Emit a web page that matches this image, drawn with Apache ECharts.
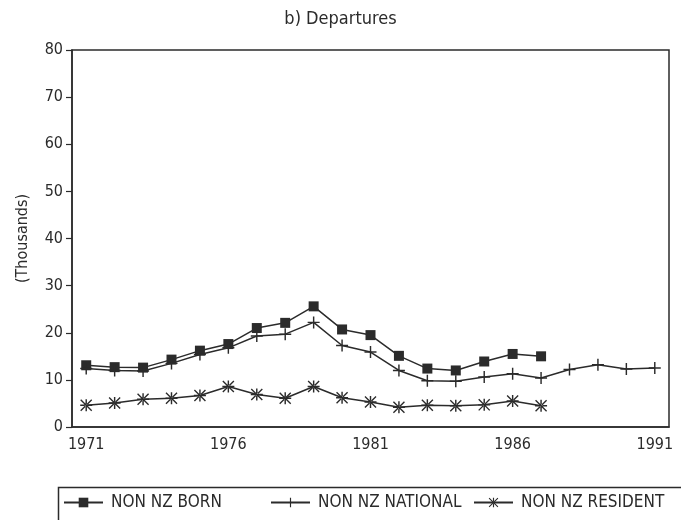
<!DOCTYPE html>
<html>
<head>
<meta charset="utf-8">
<script src="https://cdn.jsdelivr.net/npm/echarts@6/dist/echarts.min.js"></script>
<style>
  html, body { margin: 0; padding: 0; background: #fff; }
  #chart { width: 681px; height: 520px; }
</style>
</head>
<body>
<div id="chart"></div>
<script>
// years on the x axis
const years = ['1971', '1972', '1973', '1974', '1975', '1976', '1977', '1978', '1979', '1980',
  '1981', '1982', '1983', '1984', '1985', '1986', '1987', '1988', '1989', '1990', '1991']

// departures, thousands
const nonNzBorn = [13.1, 12.7, 12.6, 14.3, 16.2, 17.6, 21.0, 22.1, 25.6, 20.7,
  19.5, 15.1, 12.4, 12.0, 13.9, 15.5, 15.0, null, null, null, null]
const nonNzNational = [12.4, 12.0, 11.9, 13.5, 15.4, 16.8, 19.3, 19.7, 22.2, 17.3,
  15.9, 12.0, 9.8, 9.7, 10.6, 11.3, 10.4, 12.2, 13.2, 12.3, 12.5]
const nonNzResident = [4.6, 5.1, 5.9, 6.1, 6.7, 8.6, 6.9, 6.1, 8.6, 6.2,
  5.3, 4.2, 4.6, 4.5, 4.7, 5.5, 4.5, null, null, null, null]

const ink = '#2b2b2b'
const font = 'DejaVu Sans Condensed, DejaVu Sans, sans-serif'

// plotter style markers
const plusMark = 'path://M4.4,0h1.2v4.4h4.4v1.2h-4.4v4.4h-1.2v-4.4h-4.4v-1.2h4.4z'
const starMark = 'path://M0,0.8L0.8,0L10,9.2L9.2,10Z M10,0.8L9.2,0L0,9.2L0.8,10Z M4.4,0h1.2v10h-1.2Z M0,4.4h10v1.2h-10Z'

const chart = echarts.init(document.getElementById('chart'))

function legendAt(left, name) {
  return {
    data: [name],
    left: left,
    top: 494,
    itemWidth: 39,
    itemHeight: 12,
    itemGap: 0,
    padding: 0,
    textStyle: { fontFamily: font, fontSize: 17, color: ink, padding: [0, 0, 0, 3] }
  }
}

chart.setOption({
  backgroundColor: '#fff',
  animation: false,
  title: {
    text: 'b) Departures',
    left: 'center',
    top: 5,
    textStyle: { fontFamily: font, fontSize: 18, fontWeight: 'normal', color: ink }
  },
  legend: [
    legendAt(63, 'NON NZ BORN'),
    legendAt(270, 'NON NZ NATIONAL'),
    legendAt(473, 'NON NZ RESIDENT')
  ],
  graphic: [{
    type: 'rect',
    left: 56,
    top: 485,
    shape: { width: 700, height: 80 },
    style: { fill: 'none', stroke: ink, lineWidth: 1.5 },
    silent: true
  }],
  grid: {
    left: 72,
    right: 12,
    top: 50,
    bottom: 93,
    show: true,
    borderColor: ink,
    borderWidth: 1.5
  },
  xAxis: {
    type: 'category',
    data: years,
    boundaryGap: true,
    axisLine: { lineStyle: { color: ink, width: 1.5 } },
    axisTick: { alignWithLabel: true, interval: 0, length: 6, lineStyle: { color: ink, width: 1.2 } },
    axisLabel: { interval: 4, margin: 10, fontFamily: font, fontSize: 16, color: ink }
  },
  yAxis: {
    type: 'value',
    min: 0,
    max: 80,
    interval: 10,
    name: '(Thousands)',
    nameLocation: 'middle',
    nameGap: 41,
    nameRotate: 90,
    nameTextStyle: { fontFamily: font, fontSize: 16, color: ink },
    splitLine: { show: false },
    axisLine: { show: true, lineStyle: { color: ink, width: 1.5 } },
    axisTick: { show: true, length: 6, lineStyle: { color: ink, width: 1.2 } },
    axisLabel: { margin: 9, fontFamily: font, fontSize: 16, color: ink }
  },
  series: [
    {
      name: 'NON NZ BORN',
      type: 'line',
      data: nonNzBorn,
      symbol: 'rect',
      symbolSize: 10,
      itemStyle: { color: ink },
      lineStyle: { color: ink, width: 1.5 }
    },
    {
      name: 'NON NZ NATIONAL',
      type: 'line',
      data: nonNzNational,
      symbol: plusMark,
      symbolSize: 12,
      itemStyle: { color: ink },
      lineStyle: { color: ink, width: 1.5 }
    },
    {
      name: 'NON NZ RESIDENT',
      type: 'line',
      data: nonNzResident,
      symbol: starMark,
      symbolSize: 12,
      itemStyle: { color: ink },
      lineStyle: { color: ink, width: 1.5 }
    }
  ]
})
</script>
</body>
</html>
